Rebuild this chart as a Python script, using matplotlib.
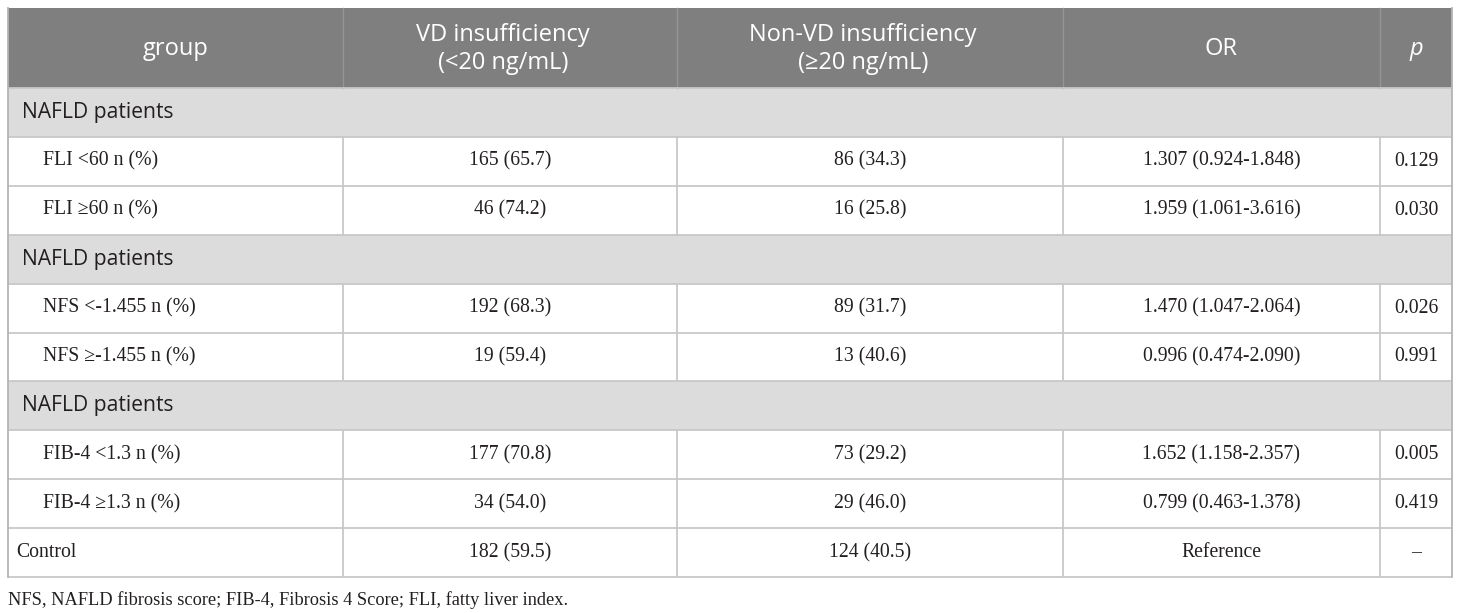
import matplotlib
matplotlib.use("Agg")
import matplotlib.pyplot as plt
from matplotlib.patches import Rectangle

# ---------------- data ----------------
header_cols = ["group", "VD insufficiency\n(<20 ng/mL)", "Non-VD insufficiency\n(\u226520 ng/mL)", "OR", "p"]
section_label = "NAFLD patients"
row_labels = [
    ["FLI <60 n (%)", "FLI \u226560 n (%)"],
    ["NFS <-1.455 n (%)", "NFS \u2265-1.455 n (%)"],
    ["FIB-4 <1.3 n (%)", "FIB-4 \u22651.3 n (%)"],
]
vd_insuff = [
    ["165 (65.7)", "46 (74.2)"],
    ["192 (68.3)", "19 (59.4)"],
    ["177 (70.8)", "34 (54.0)"],
]
non_vd = [
    ["86 (34.3)", "16 (25.8)"],
    ["89 (31.7)", "13 (40.6)"],
    ["73 (29.2)", "29 (46.0)"],
]
odds_ratio = [
    ["1.307 (0.924-1.848)", "1.959 (1.061-3.616)"],
    ["1.470 (1.047-2.064)", "0.996 (0.474-2.090)"],
    ["1.652 (1.158-2.357)", "0.799 (0.463-1.378)"],
]
p_values = [
    ["0.129", "0.030"],
    ["0.026", "0.991"],
    ["0.005", "0.419"],
]
control_row = ["Control", "182 (59.5)", "124 (40.5)", "Reference", "\u2013"]
footnote = "NFS, NAFLD fibrosis score; FIB-4, Fibrosis 4 Score; FLI, fatty liver index."

# ---------------- layout ----------------
W, H = 1460, 613
col_edges = [8, 343, 677, 1063, 1380, 1452]
header_dx = [0, -7, -7, 0, 0]
top, header_bottom = 8, 88
row_h = 48.9

HEAD_BG = "#7f7f7f"
SEC_BG = "#dcdcdc"
GRID = "#c8c8c8"
TXT = "#231f20"
SANS = ["Open Sans", "DejaVu Sans"]
SERIF = ["Liberation Serif", "DejaVu Serif"]
FS = 14.2
FS_HEAD = 17.0
FS_SEC = 15.2

fig = plt.figure(figsize=(W / 100, H / 100), dpi=100)
ax = fig.add_axes([0, 0, 1, 1])
ax.set_xlim(0, W)
ax.set_ylim(H, 0)
ax.axis("off")

left, right = col_edges[0], col_edges[-1]

# header
ax.add_patch(Rectangle((left, top), right - left, header_bottom - top, facecolor=HEAD_BG, edgecolor="none"))
for x in col_edges[1:-1]:
    ax.plot([x, x], [top, header_bottom], color="#959595", lw=1.0)
hy = (top + header_bottom) / 2 + 1
for i, t in enumerate(header_cols):
    cx = (col_edges[i] + col_edges[i + 1]) / 2 + header_dx[i]
    ax.text(cx, hy, t, ha="center", va="center", color="white", fontsize=FS_HEAD,
            family=SANS, style="italic" if t == "p" else "normal", linespacing=1.25)

# body rows
y = header_bottom
vlines = []
for g in range(len(row_labels)):
    # section row
    ax.add_patch(Rectangle((left, y), right - left, row_h, facecolor=SEC_BG, edgecolor="none"))
    ax.text(left + 14, y + row_h / 2, section_label, ha="left", va="center", color=TXT,
            fontsize=FS_SEC, family=SANS)
    y += row_h
    for r in range(len(row_labels[g])):
        cells = [row_labels[g][r], vd_insuff[g][r], non_vd[g][r], odds_ratio[g][r], p_values[g][r]]
        cy = y + row_h / 2
        for i, t in enumerate(cells):
            if i == 0:
                ax.text(left + 35, cy, t, ha="left", va="center", color=TXT, fontsize=FS, family=SERIF)
            else:
                cx = (col_edges[i] + col_edges[i + 1]) / 2
                ax.text(cx, cy, t, ha="center", va="center", color=TXT, fontsize=FS, family=SERIF)
        vlines.append((y, y + row_h))
        y += row_h

# control row
cy = y + row_h / 2
for i, t in enumerate(control_row):
    if i == 0:
        ax.text(left + 8, cy, t, ha="left", va="center", color=TXT, fontsize=FS, family=SERIF)
    else:
        cx = (col_edges[i] + col_edges[i + 1]) / 2
        ax.text(cx, cy, t, ha="center", va="center", color=TXT, fontsize=FS, family=SERIF)
vlines.append((y, y + row_h))
y += row_h
bottom = y

# horizontal grid lines
n_rows = int(round((bottom - header_bottom) / row_h))
for k in range(n_rows + 1):
    yy = header_bottom + k * row_h
    ax.plot([left, right], [yy, yy], color=GRID, lw=1.3, solid_capstyle="butt")

# vertical lines in data rows
for (y0, y1) in vlines:
    for x in col_edges[1:-1]:
        ax.plot([x, x], [y0, y1], color=GRID, lw=1.3, solid_capstyle="butt")

# outer border
ax.plot([left, left], [top, bottom], color="#b4b4b4", lw=1.3)
ax.plot([right, right], [top, bottom], color="#b4b4b4", lw=1.3)

# footnote
ax.text(left, 600, footnote, ha="left", va="center", color=TXT, fontsize=13.2, family=SERIF)

fig.savefig("out.png", dpi=100)
